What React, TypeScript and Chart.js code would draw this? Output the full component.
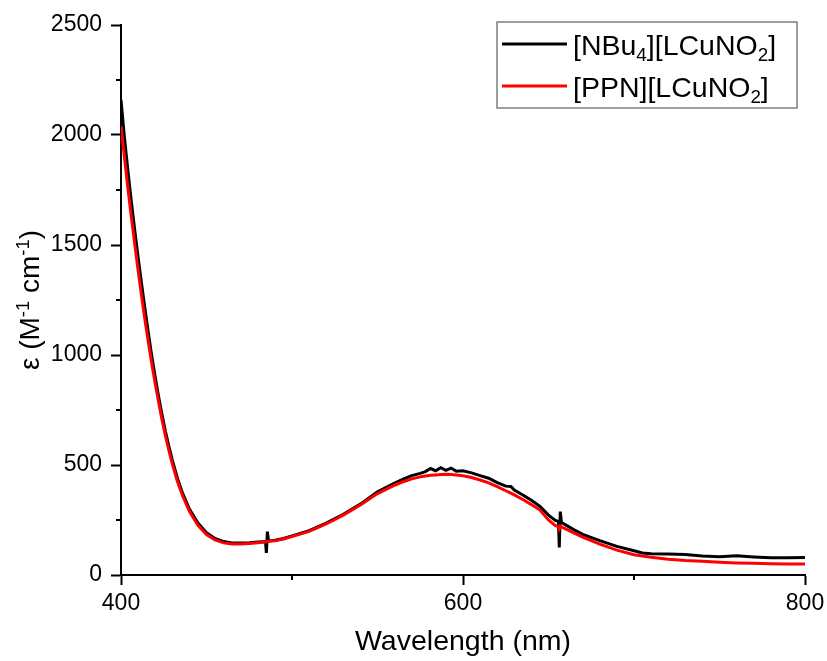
import React, { useEffect, useRef } from "react";
import { Chart, registerables } from "chart.js";

Chart.register(...registerables);

// ---- data ----
const wavelengths = [
  400, 402, 404, 406, 408, 410, 412, 414, 416, 418, 420, 422, 424, 426, 428, 430, 433, 436, 440, 445,
  450, 455, 460, 465, 470, 475, 480, 484.5, 485, 485.6, 486.3, 490, 495, 500, 510, 520, 530, 540, 550, 560,
  565, 570, 575, 578, 581, 584, 587, 590, 593, 596, 600, 605, 610, 615, 620, 625, 628, 630, 635, 640,
  645, 650, 654, 655.8, 656.3, 656.9, 657.6, 660, 665, 670, 680, 690, 700, 705, 710, 720, 730, 740, 750, 760,
  770, 780, 790, 800,
];
const nbu4Values = [
  2160, 1990, 1840, 1700, 1570, 1445, 1325, 1210, 1100, 995, 900, 810, 728, 652, 585, 522, 440, 372, 300, 236,
  192, 166, 152, 146, 145, 147, 150, 152, 100, 197, 154, 158, 166, 178, 202, 236, 276, 322, 378, 418,
  436, 452, 462, 470, 484, 474, 488, 476, 486, 472, 474, 464, 452, 440, 420, 404, 402, 386, 364, 340,
  312, 272, 248, 244, 125, 288, 238, 228, 205, 185, 156, 130, 110, 100, 97, 96, 93, 86, 83, 87,
  82, 78, 78, 80,
];
const ppnValues = [
  2040, 1900, 1760, 1630, 1505, 1385, 1270, 1160, 1058, 960, 870, 785, 705, 632, 566, 505, 425, 360, 290, 226,
  184, 160, 146, 141, 141, 143, 147, 150, 151, 152, 153, 156, 164, 175, 198, 232, 272, 318, 370, 408,
  424, 437, 446, 450, 453, 455, 457, 458, 457, 455, 451, 443, 432, 419, 402, 383, 372, 364, 343, 320,
  295, 250, 224, 220, 210, 222, 218, 210, 190, 172, 140, 113, 92, 86, 81, 72, 66, 62, 58, 55,
  53, 51, 50, 50,
];
const seriesLabels = ["[NBu_{4}][LCuNO_{2}]", "[PPN][LCuNO_{2}]"];
const seriesColors = ["#000000", "#ff0000"];
const xTitle = "Wavelength (nm)";
const yTitle = "ε (M^{-1} cm^{-1})";
const xMajorTicks = [400, 600, 800];
const xMinorTicks = [500, 700];
const yMajorTicks = [0, 500, 1000, 1500, 2000, 2500];
const yMinorTicks = [250, 750, 1250, 1750, 2250];

const FONT = '"Liberation Sans", Arial, sans-serif';

type Seg = { t: string; k: number; w?: number };
function parseRich(s: string): Seg[] {
  const out: Seg[] = [];
  const re = /([_^])\{([^}]*)\}/g;
  let last = 0;
  let m: RegExpExecArray | null;
  while ((m = re.exec(s))) {
    if (m.index > last) out.push({ t: s.slice(last, m.index), k: 0 });
    out.push({ t: m[2], k: m[1] === "^" ? 1 : -1 });
    last = re.lastIndex;
  }
  if (last < s.length) out.push({ t: s.slice(last), k: 0 });
  return out;
}
function drawRich(ctx: CanvasRenderingContext2D, s: string, x: number, y: number, size: number, align: "left" | "center") {
  const segs = parseRich(s);
  const small = size * 0.66;
  let total = 0;
  for (const seg of segs) {
    ctx.font = `${seg.k ? small : size}px ${FONT}`;
    seg.w = ctx.measureText(seg.t).width;
    total += seg.w;
  }
  let cx = align === "center" ? x - total / 2 : x;
  ctx.textAlign = "left";
  ctx.textBaseline = "alphabetic";
  for (const seg of segs) {
    ctx.font = `${seg.k ? small : size}px ${FONT}`;
    const dy = seg.k === 1 ? -size * 0.36 : seg.k === -1 ? size * 0.2 : 0;
    ctx.fillText(seg.t, cx, y + dy);
    cx += seg.w || 0;
  }
}

const decorPlugin = {
  id: "decor",
  afterDraw(chart: any) {
    const ctx: CanvasRenderingContext2D = chart.ctx;
    const xs = chart.scales.x;
    const ys = chart.scales.y;
    const area = chart.chartArea;
    ctx.save();
    // minor ticks
    ctx.strokeStyle = "#000";
    ctx.lineWidth = 2;
    ctx.beginPath();
    for (const v of xMinorTicks) {
      const px = xs.getPixelForValue(v);
      ctx.moveTo(px, area.bottom);
      ctx.lineTo(px, area.bottom + 5);
    }
    for (const v of yMinorTicks) {
      const py = ys.getPixelForValue(v);
      ctx.moveTo(area.left, py);
      ctx.lineTo(area.left - 5, py);
    }
    ctx.stroke();

    // legend
    const bx = 497, by = 22, bw = 300, bh = 86;
    ctx.strokeStyle = "#7f7f7f";
    ctx.lineWidth = 1.5;
    ctx.strokeRect(bx, by, bw, bh);
    const rows = [44, 86];
    chart.data.datasets.forEach((ds: any, i: number) => {
      const ly = rows[i];
      ctx.strokeStyle = ds.borderColor;
      ctx.lineWidth = 3;
      ctx.beginPath();
      ctx.moveTo(502, ly);
      ctx.lineTo(567, ly);
      ctx.stroke();
      ctx.fillStyle = "#000";
      drawRich(ctx, ds.label, 573, ly + 11, 28.5, "left");
    });

    // y title
    ctx.save();
    ctx.translate(29, (area.top + area.bottom) / 2);
    ctx.rotate(-Math.PI / 2);
    ctx.fillStyle = "#000";
    drawRich(ctx, yTitle, 0, 10, 28, "center");
    ctx.restore();
    ctx.restore();
  },
};

export default function App() {
  const ref = useRef<HTMLCanvasElement | null>(null);
  useEffect(() => {
    if (!ref.current) return;
    const mk = (vals: number[]) => wavelengths.map((x, i) => ({ x, y: vals[i] }));
    const chart = new Chart(ref.current, {
      type: "line",
      data: {
        datasets: [
          {
            label: seriesLabels[0],
            data: mk(nbu4Values),
            borderColor: seriesColors[0],
            backgroundColor: seriesColors[0],
            borderWidth: 3,
            pointRadius: 0,
            tension: 0,
            order: 1,
          },
          {
            label: seriesLabels[1],
            data: mk(ppnValues),
            borderColor: seriesColors[1],
            backgroundColor: seriesColors[1],
            borderWidth: 3,
            pointRadius: 0,
            tension: 0,
            order: 0,
          },
        ],
      },
      options: {
        animation: false,
        responsive: false,
        devicePixelRatio: 1,
        layout: { padding: { top: 25, right: 22, left: 0, bottom: 0 } },
        plugins: { legend: { display: false }, tooltip: { enabled: false } },
        scales: {
          x: {
            type: "linear",
            min: 400,
            max: 800,
            afterFit: (s: any) => {
              s.height = 86;
              s.paddingLeft = 0;
              s.paddingRight = 0;
            },
            afterBuildTicks: (s: any) => {
              s.ticks = xMajorTicks.map((v) => ({ value: v }));
            },
            ticks: { font: { size: 23, family: FONT }, color: "#000", padding: 5, maxRotation: 0, callback: (v: any) => String(v) },
            grid: { drawOnChartArea: false, drawTicks: true, tickLength: 10, tickWidth: 2, tickColor: "#000" },
            border: { color: "#000", width: 2 },
            title: { display: true, text: xTitle, color: "#000", font: { size: 28.5, family: FONT }, padding: { top: 0, bottom: 2 } },
          },
          y: {
            type: "linear",
            min: 0,
            max: 2500,
            afterFit: (s: any) => {
              s.width = 121;
              s.paddingTop = 0;
              s.paddingBottom = 0;
            },
            afterBuildTicks: (s: any) => {
              s.ticks = yMajorTicks.map((v) => ({ value: v }));
            },
            ticks: { font: { size: 23, family: FONT }, color: "#000", padding: 9, callback: (v: any) => String(v) },
            grid: { drawOnChartArea: false, drawTicks: true, tickLength: 10, tickWidth: 2, tickColor: "#000" },
            border: { color: "#000", width: 2 },
            title: { display: false },
          },
        },
      },
      plugins: [decorPlugin],
    });
    return () => chart.destroy();
  }, []);
  return (
    <div style={{ position: "absolute", left: 0, top: 0, width: 827, height: 661 }}>
      <canvas ref={ref} width={827} height={661} style={{ display: "block" }} />
    </div>
  );
}
